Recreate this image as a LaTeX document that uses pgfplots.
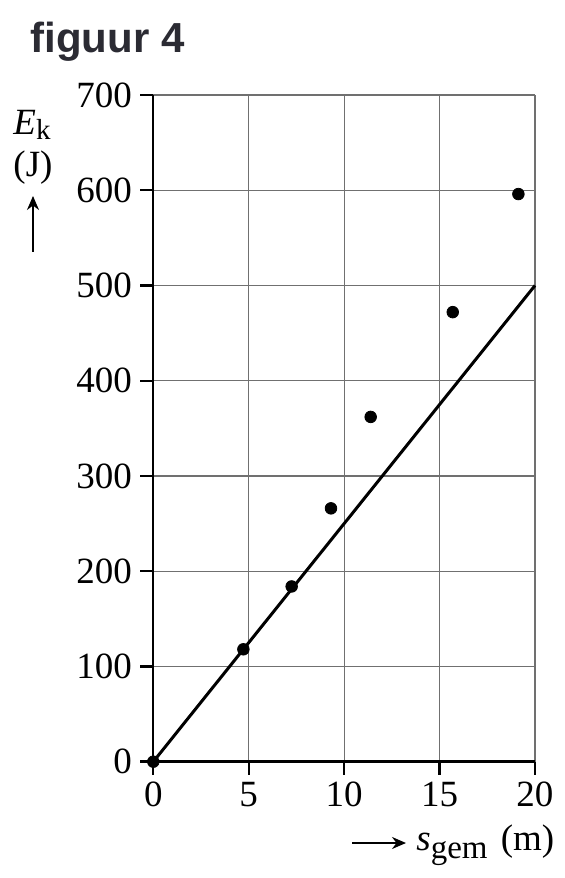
\documentclass[border=0pt]{standalone}
\usepackage{pgfplots}
\pgfplotsset{compat=1.18}
\usepackage{fontspec}
\setmainfont{Liberation Serif}
\newfontfamily\titlefont{Liberation Sans}
\usetikzlibrary{arrows.meta}
\definecolor{titlegray}{HTML}{2B2B33}
\definecolor{gridgray}{HTML}{707070}
\begin{document}
\begin{tikzpicture}
\useasboundingbox (-76.65pt,-58.15pt) rectangle (205.35pt,380.85pt);
\begin{axis}[
  at={(0pt,0pt)}, anchor=south west,
  scale only axis, width=190.85pt, height=333.35pt,
  xmin=0, xmax=20, ymin=0, ymax=700,
  xtick={0,5,10,15,20}, ytick={0,100,...,700},
  axis x line*=bottom, axis y line*=left,
  axis line style={line width=1.2pt, black},
  tick align=outside, major tick length=6.5pt,
  major tick style={line width=1.2pt, black},
  grid=major,
  major grid style={line width=0.55pt, gridgray},
  xticklabel style={font=\fontsize{18.5}{22}\selectfont, inner sep=3.5pt},
  yticklabel style={font=\fontsize{18.5}{22}\selectfont, inner sep=4pt},
  /pgf/number format/assume math mode=true,
  clip=false,
]
\addplot[black, line width=1.5pt] coordinates {(0,0) (20,500)};
\addplot[only marks, mark=*, mark size=2.9pt, black] coordinates {
(0,0) (4.72,118) (7.25,184) (9.31,266) (11.39,362) (15.69,472) (19.13,596)
};
\end{axis}
\node[anchor=base west, inner sep=0, text=titlegray, font=\titlefont\bfseries\fontsize{21}{25}\selectfont] at (-61.65pt,354.35pt) {figuur 4};
\node[anchor=base, inner sep=0, font=\fontsize{18.5}{22}\selectfont] at (-60.65pt,313.35pt) {\textit{E}\raisebox{-2.5pt}{\fontsize{14.5}{16}\selectfont k}};
\node[anchor=base, inner sep=0, font=\fontsize{18.5}{22}\selectfont] at (-60.15pt,292.35pt) {(J)};
\draw[line width=1pt, -{Stealth[length=7pt,width=6pt]}] (-60.15pt,254.85pt) -- (-60.15pt,282.85pt);
\draw[line width=1pt, -{Stealth[length=7pt,width=6pt]}] (99.35pt,-40.65pt) -- (126.35pt,-40.65pt);
\node[anchor=base west, inner sep=0, font=\fontsize{18.5}{22}\selectfont] at (131.35pt,-44.15pt) {\textit{s}\raisebox{-4pt}{\fontsize{16.5}{18}\selectfont gem}\hspace{2pt} (m)};
\end{tikzpicture}
\end{document}
